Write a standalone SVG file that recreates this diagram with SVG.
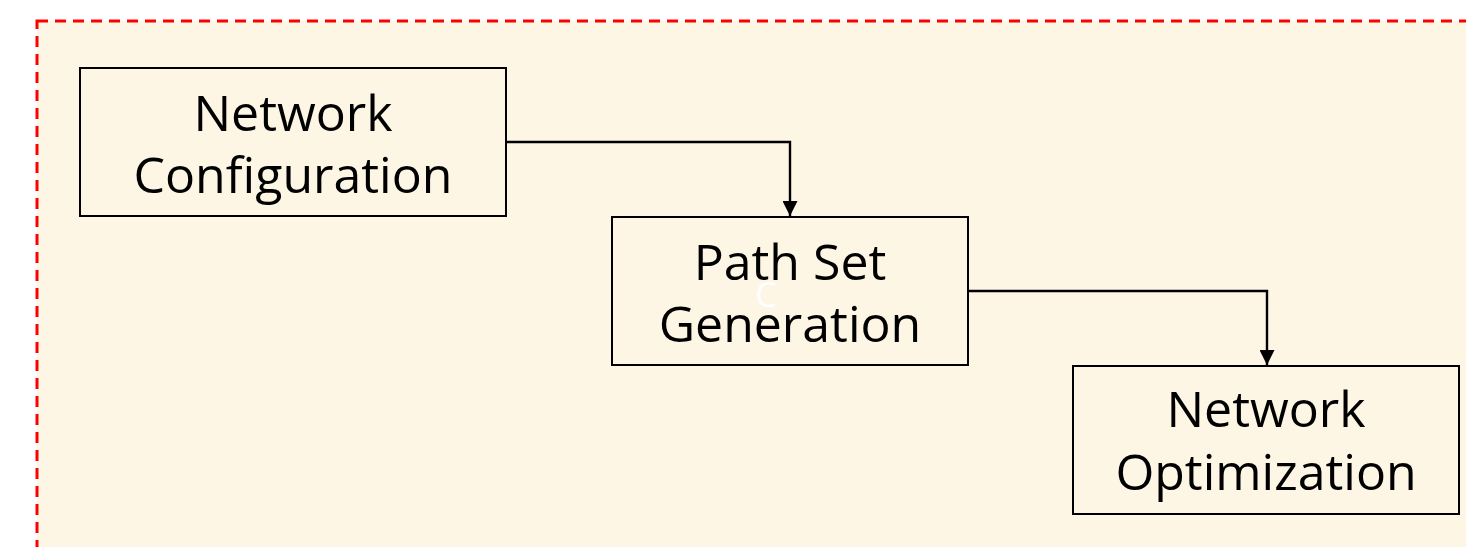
<svg xmlns="http://www.w3.org/2000/svg" width="1466" height="547" viewBox="0 0 1466 547">
<defs>
<style>
.node rect{fill:none;stroke:#000;stroke-width:2}
.lbl{font-family:"Open Sans","Noto Sans",sans-serif;font-size:50px;fill:#000;text-anchor:middle}
.conn path{fill:none;stroke:#000;stroke-width:2.4}
</style>
<marker id="arr" viewBox="0 0 10 10" refX="10" refY="5" markerWidth="15" markerHeight="15" markerUnits="userSpaceOnUse" orient="auto">
<path d="M0,0 L10,5 L0,10 Z" fill="#000"/>
</marker>
</defs>
<rect x="0" y="0" width="1466" height="547" fill="#fff"/>
<g id="container">
<rect x="37" y="21" width="1460" height="560" fill="#fef6e4" stroke="#ff0000" stroke-width="3" stroke-dasharray="11,7"/>
</g>
<g class="conn" id="connectors">
<path d="M506,142 H790 V216" marker-end="url(#arr)"/>
<path d="M968,291 H1267 V365" marker-end="url(#arr)"/>
</g>
<g class="node" id="node-config">
<rect x="80" y="68" width="426" height="148"/>
<text class="lbl" x="293" y="131">Network</text>
<text class="lbl" x="293" y="193">Configuration</text>
</g>
<g class="node" id="node-pathset">
<rect x="612" y="217" width="356" height="148"/>
<text class="lbl" x="790" y="280">Path Set</text>
<text class="lbl" x="790" y="342">Generation</text>
<text x="766" y="307" font-family="Open Sans,sans-serif" font-size="34" fill="#fff" text-anchor="middle">C</text>
</g>
<g class="node" id="node-opt">
<rect x="1073" y="366" width="386" height="148"/>
<text class="lbl" x="1266" y="427">Network</text>
<text class="lbl" x="1266" y="490">Optimization</text>
</g>
</svg>
